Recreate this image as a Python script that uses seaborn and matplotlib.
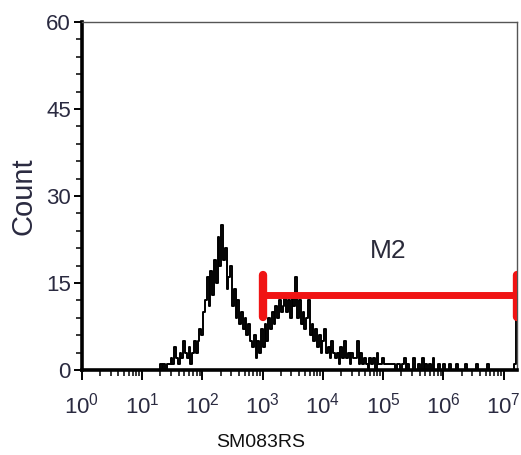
import numpy as np
import matplotlib
matplotlib.use("Agg")
import matplotlib.pyplot as plt
import seaborn as sns
from matplotlib.ticker import LogLocator, MultipleLocator, FixedLocator

sns.set_style("white")
plt.rcParams['font.family'] = ['Liberation Sans', 'DejaVu Sans']
plt.rcParams['mathtext.fontset'] = 'custom'
plt.rcParams['mathtext.rm'] = 'Liberation Sans'
plt.rcParams['mathtext.it'] = 'Liberation Sans'

# ---- data (histogram channels, log10 of channel left edge) ----
log_start = 1.26
log_step = 0.03
counts = [
    0, 1, 0, 1, 0, 1, 1, 2,
    1, 4, 2, 1, 3, 2, 5, 3, 2, 4,
    1, 3, 5, 3, 5, 7, 6, 10, 12, 16,
    11, 17, 13, 19, 15, 23, 18, 25, 19, 21,
    14, 16, 18, 11, 14, 9, 12, 8, 10, 7,
    9, 6, 8, 5, 4, 6, 2, 5, 3, 7,
    4, 8, 5, 9, 7, 10, 8, 11, 9, 12,
    10, 11, 13, 10, 12, 9, 13, 11, 16, 9,
    12, 8, 10, 7, 9, 12, 6, 8, 5, 7,
    4, 6, 3, 5, 7, 3, 4, 2, 5, 3,
    2, 3, 1, 4, 2, 5, 2, 3, 1, 3,
    2, 2, 5, 1, 3, 1, 2, 1, 0, 2,
    1, 2, 0, 3, 1, 1, 2, 1, 1, 1,
    1, 1, 1, 0, 1, 1, 0, 1, 2, 0,
    1, 0, 0, 2, 0, 0, 1, 0, 2, 0,
    1, 0, 1, 0, 2, 0, 0, 1, 0, 0,
    1, 0, 0, 1, 0, 0, 0, 1, 0, 0,
    0, 0, 1, 0, 0, 0, 0, 0, 1, 0,
    0, 0, 0, 0, 1, 0, 0, 0, 0, 0,
    0, 0, 0, 0, 0, 0, 0, 0, 0, 1,
    9,
]
xtick_decades = [0, 1, 2, 3, 4, 5, 6, 7]
ytick_values = [0, 15, 30, 45, 60]
gate_label = "M2"
gate_low = 1e3
gate_high = 10 ** 7.215
gate_count = 12.9
gate_cap_low = 9.2
gate_cap_high = 16.4
gate_label_x = 10 ** 5.08
gate_label_y = 20.5
x_label = "SM083RS"
y_label = "Count"

edges = 10 ** (log_start + log_step * np.arange(len(counts) + 1))
x_vals = edges
y_vals = np.append(counts, counts[-1])

fig = plt.figure(figsize=(5.21, 4.55), dpi=100)
ax = fig.add_axes([82 / 521, 1 - 370 / 455, 435 / 521, 348 / 455])

sns.lineplot(x=x_vals, y=y_vals, drawstyle='steps-post', color='black',
             linewidth=1.4, estimator=None, ax=ax)

ax.set_xscale('log')
ax.set_xlim(1, 10 ** 7.22)
ax.set_ylim(0, 60)

# gate marker
red = '#f01414'
ax.hlines(gate_count, gate_low, gate_high, color=red, linewidth=5, zorder=5)
ax.vlines([gate_low, gate_high], gate_cap_low, gate_cap_high, color=red,
          linewidth=6, zorder=5, capstyle='round')
ax.text(gate_label_x, gate_label_y, gate_label, fontsize=19, color='#2a2a3a',
        ha='center', va='center')

# ticks
lab_col = '#2a2a40'
ax.xaxis.set_major_locator(FixedLocator([10.0 ** d for d in xtick_decades]))
ax.xaxis.set_minor_locator(LogLocator(base=10, subs=np.arange(2, 10), numticks=30))
ax.set_xticklabels([r'$10^{%d}$' % d for d in xtick_decades])
ax.yaxis.set_major_locator(FixedLocator(ytick_values))
ax.yaxis.set_minor_locator(MultipleLocator(3))
ax.tick_params(axis='x', which='major', direction='out', length=7.5, width=1.4,
               color='black', labelsize=16, labelcolor=lab_col, pad=9, bottom=True)
ax.tick_params(axis='x', which='minor', direction='out', length=4.5, width=1.1,
               color='black', bottom=True)
ax.tick_params(axis='y', which='major', direction='out', length=6, width=1.4,
               color='black', labelsize=16, labelcolor=lab_col, pad=2, left=True)
ax.tick_params(axis='y', which='minor', direction='out', length=4, width=1.1,
               color='black', left=True)

for s in ['left', 'bottom']:
    ax.spines[s].set_color('black')
    ax.spines[s].set_linewidth(2.6)
for s in ['top', 'right']:
    ax.spines[s].set_color('#555555')
    ax.spines[s].set_linewidth(1.0)

ax.set_xlabel(x_label, fontsize=14, color='#111111')
ax.xaxis.set_label_coords(0.41, -0.185)
ax.set_ylabel(y_label, fontsize=21, color='#2a2a40', labelpad=6)

fig.savefig('out.png', dpi=100)
